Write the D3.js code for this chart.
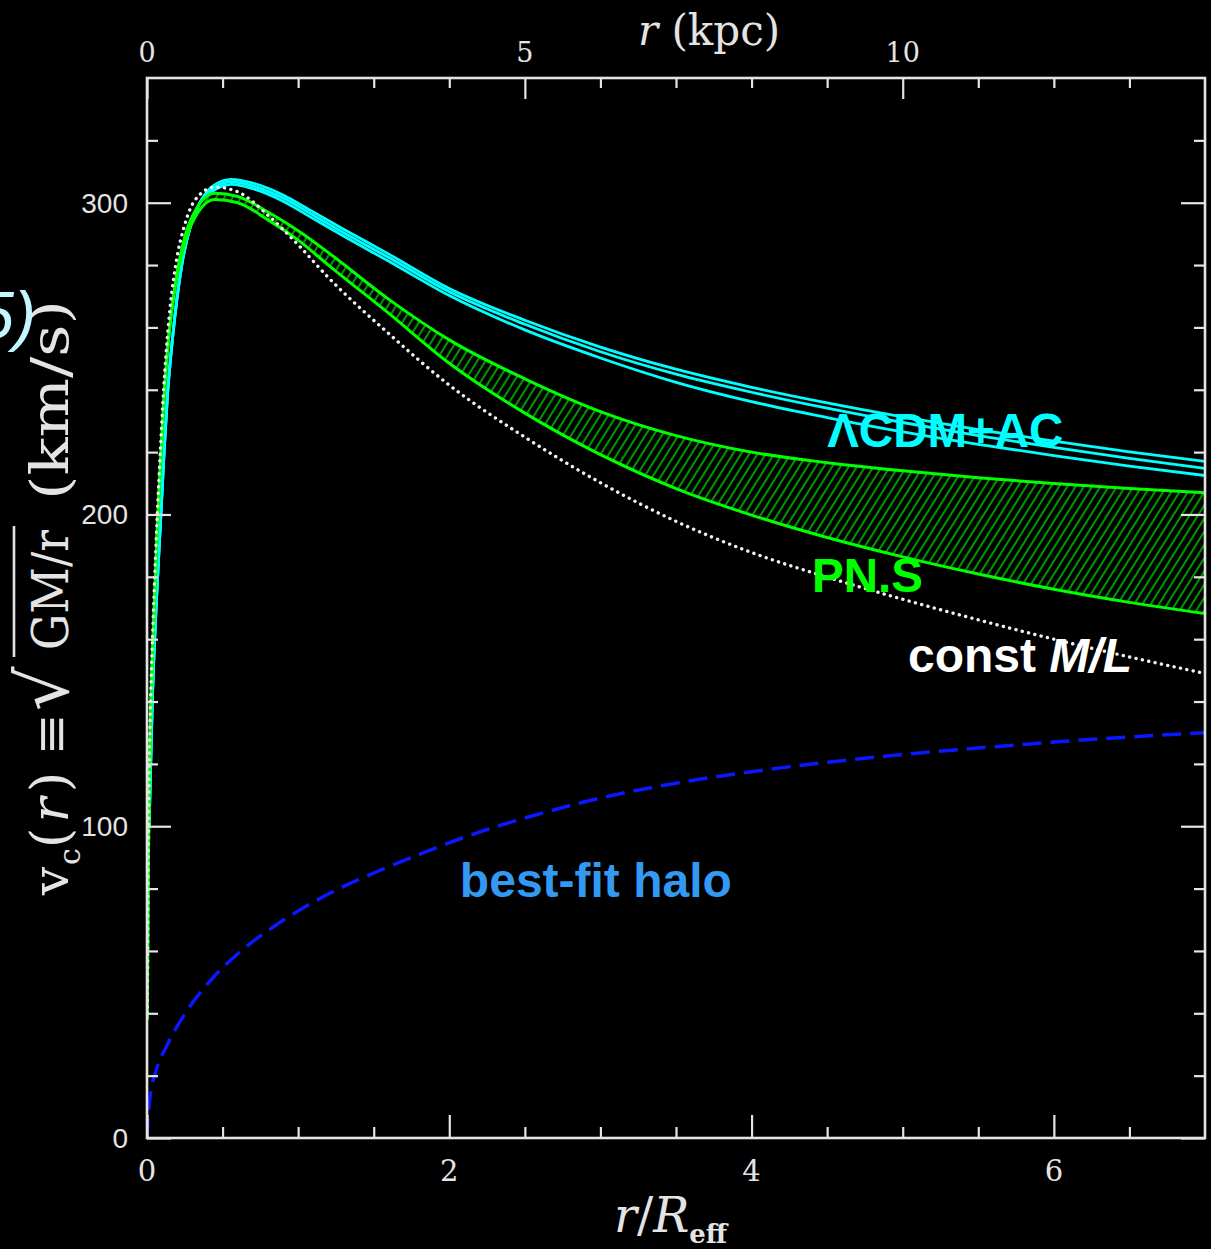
<!DOCTYPE html>
<html>
<head>
<meta charset="utf-8">
<script src="https://cdn.jsdelivr.net/npm/d3@7"></script>
<style>
  html, body { margin: 0; padding: 0; background: #000; }
  svg { display: block; }
</style>
</head>
<body>
<script>
//Data
//r in units of R_eff, v_c in km/s
const rML = [0.002,0.008,0.015,0.025,0.04,0.068,0.09,0.11,0.14,0.19,0.25,0.32,0.45,0.6,0.8,1.0,1.2,1.6,2.0,2.5,3.0,3.5,4.0,4.5,5.0,5.5,6.0,6.5,7.0];
const vML = [40,88,118,142,165,200,222,240,260,280,293,301,305,303.5,296,286.5,276,258,241.5,224.8,210.2,197.8,187.8,179.9,172.8,166.2,160,154.3,149];

const rPN = [0.002,0.008,0.015,0.025,0.04,0.068,0.09,0.11,0.14,0.19,0.25,0.32,0.45,0.6,0.8,1.0,1.2,1.6,2.0,2.5,3.0,3.5,4.0,4.5,5.0,5.5,6.0,6.5,7.0];
const pnUpper = [38,84,113,137,160,195,217,235,255,275,289,297.5,303,302,297,291,284,269,256,243.5,233,225.3,220,216.6,214,211.8,209.9,208.3,207];
const pnLower = [38,84,113,137,160,195,217,235,255,274,287,295.5,301,300,294.5,288,280,264.5,248.5,232.5,219.2,208.3,199.8,192.6,186.4,180.9,176,171.8,168.2];

const rCDM = [0.014,0.035,0.062,0.092,0.113,0.135,0.17,0.23,0.29,0.35,0.44,0.56,0.7,0.9,1.1,1.3,1.6,2.0,2.5,3.0,3.5,4.0,4.5,5.0,5.5,6.0,6.5,7.0];
const cdmTop = [100,140,172,200,220,238,257,280,293,300,305.5,307.5,306.3,302.5,297,291.5,283.5,272.5,262.3,253.7,246.6,240.8,235.8,231.3,227.2,223.5,220.1,217];
const cdmMid = [100,140,172,200,220,238,257,280,293,300,304.7,306.7,305.4,301.5,296,290.4,282.4,271.4,261,252.2,245,239.2,234.1,229.5,225.3,221.5,218,214.8];
const cdmBot = [100,140,172,200,220,238,257,280,293,300,303.9,305.9,304.5,300.5,294.9,289.3,281.2,270.2,259.2,250.2,242.4,236.2,231.1,226.5,222.5,218.9,215.5,212.5];

const rHalo = [0,0.005,0.02,0.06,0.13,0.24,0.42,0.61,0.83,1.17,1.5,1.83,2.16,2.6,3.04,3.5,4.0,4.5,5.0,5.6,6.3,7.0];
const vHalo = [0,5,13,21.5,29.5,39,50.5,59.5,67.5,77.5,85,91.5,97.5,104,109.5,113.8,117.5,120.5,123,125.5,128,130];

//Ticks
const xMajor = [0,2,4,6];
const xMinor = [0.5,1,1.5,2.5,3,3.5,4.5,5,5.5,6.5];
const yMajor = [0,100,200,300];
const yMinor = [20,40,60,80,120,140,160,180,220,240,260,280,320];
const kpcMajor = [0,5,10];
const kpcMinor = [1,2,3,4,6,7,8,9,11,12,13];
const rEffKpc = 2.0;

//Labels
const labels = [
  {t: "\u039BCDM+AC", r: 4.5, v: 221.5, color: "#00ffff", size: 47.5},
  {t: "PN.S", r: 4.4, v: 175, color: "#00ff00", size: 47.5},
  {t: "best-fit halo", r: 2.07, v: 77.3, color: "#3399f3", size: 48}
];

const w = 1211, h = 1249;
const plot = {left: 147, right: 1205, top: 78, bottom: 1138};
const axisColor = "#e4e4e4";

const svg = d3.select("body").append("svg").attr("width", w).attr("height", h)
  .style("background", "#000");

const x = d3.scaleLinear().domain([0, 7]).range([plot.left, plot.right]);
const xk = d3.scaleLinear().domain([0, 7 * rEffKpc]).range([plot.left, plot.right]);
const y = d3.scaleLinear().domain([0, 340]).range([plot.bottom, plot.top]);

const zip = (rs, vs) => rs.map((r, i) => [r, vs[i]]);
const line = d3.line().x(d => x(d[0])).y(d => y(d[1])).curve(d3.curveMonotoneX);

//hatch pattern for PN.S band
const defs = svg.append("defs");
defs.append("clipPath").attr("id", "clip")
  .append("rect").attr("x", plot.left).attr("y", plot.top)
  .attr("width", plot.right - plot.left).attr("height", plot.bottom - plot.top);
const pat = defs.append("pattern").attr("id", "hatch").attr("patternUnits", "userSpaceOnUse")
  .attr("width", 7).attr("height", 7).attr("patternTransform", "rotate(32)");
pat.append("line").attr("x1", 1).attr("y1", 0).attr("x2", 1).attr("y2", 7)
  .attr("stroke", "#00b300").attr("stroke-width", 1.7);

const g = svg.append("g").attr("clip-path", "url(#clip)");

//LCDM+AC lines (under the green and dotted curves where they overlap in the rise)
[cdmTop, cdmMid, cdmBot].forEach(vs => {
  g.append("path").datum(zip(rCDM, vs)).attr("d", line)
    .attr("fill", "none").attr("stroke", "#00ffff").attr("stroke-width", 2.8);
});

//PN.S band
const area = d3.area().x(d => x(d[0])).y0(d => y(d[2])).y1(d => y(d[1])).curve(d3.curveMonotoneX);
g.append("path").datum(rPN.map((r, i) => [r, pnUpper[i], pnLower[i]]))
  .attr("d", area).attr("fill", "url(#hatch)");
[pnUpper, pnLower].forEach(vs => {
  g.append("path").datum(zip(rPN, vs)).attr("d", line)
    .attr("fill", "none").attr("stroke", "#00ff00").attr("stroke-width", 3);
});

//const M/L
g.append("path").datum(zip(rML, vML)).attr("d", line)
  .attr("fill", "none").attr("stroke", "#f0f0f0").attr("stroke-width", 3.4)
  .attr("stroke-linecap", "round").attr("stroke-dasharray", "0.1,6.4");

//halo
g.append("path").datum(zip(rHalo, vHalo)).attr("d", line)
  .attr("fill", "none").attr("stroke", "#0a18ff").attr("stroke-width", 3.5)
  .attr("stroke-dasharray", "19,9");

//Axes - ticks point inward
function ticks(axis, tf, vals, size) {
  const a = svg.append("g").attr("transform", tf)
    .call(axis.tickValues(vals).tickSize(size).tickFormat(""));
  a.select(".domain").remove();
  a.selectAll("line").attr("stroke", axisColor).attr("stroke-width", 2.2);
  return a;
}
ticks(d3.axisBottom(x), `translate(0,${plot.bottom})`, xMajor, -23);
ticks(d3.axisBottom(x), `translate(0,${plot.bottom})`, xMinor, -11);
ticks(d3.axisTop(xk), `translate(0,${plot.top})`, kpcMajor, -21);
ticks(d3.axisTop(xk), `translate(0,${plot.top})`, kpcMinor, -10);
ticks(d3.axisLeft(y), `translate(${plot.left},0)`, yMajor, -24);
ticks(d3.axisLeft(y), `translate(${plot.left},0)`, yMinor, -11);
ticks(d3.axisRight(y), `translate(${plot.right},0)`, yMajor, -24);
ticks(d3.axisRight(y), `translate(${plot.right},0)`, yMinor, -11);

svg.append("rect").attr("x", plot.left).attr("y", plot.top)
  .attr("width", plot.right - plot.left).attr("height", plot.bottom - plot.top)
  .attr("fill", "none").attr("stroke", axisColor).attr("stroke-width", 2.6);

//tick labels
xMajor.forEach(d => {
  svg.append("text").text(d).attr("x", x(d)).attr("y", 1181)
    .attr("text-anchor", "middle").attr("font-family", "DejaVu Serif").attr("font-size", 29).attr("fill", axisColor);
});
kpcMajor.forEach(d => {
  svg.append("text").text(d).attr("x", xk(d)).attr("y", 62)
    .attr("text-anchor", "middle").attr("font-family", "DejaVu Serif").attr("font-size", 27).attr("fill", axisColor);
});
yMajor.forEach(d => {
  svg.append("text").text(d).attr("x", 128).attr("y", y(d) + 10)
    .attr("text-anchor", "end").attr("font-family", "Liberation Sans").attr("font-size", 28).attr("fill", axisColor);
});

//axis titles
const topTitle = svg.append("text").attr("x", 638).attr("y", 45)
  .attr("font-family", "DejaVu Serif").attr("font-size", 42).attr("fill", axisColor);
topTitle.append("tspan").text("r").attr("font-style", "italic");
topTitle.append("tspan").text(" (kpc)");

const botTitle = svg.append("text").attr("x", 614).attr("y", 1232)
  .attr("font-family", "DejaVu Serif").attr("font-size", 48).attr("fill", axisColor);
botTitle.append("tspan").text("r").attr("font-style", "italic");
botTitle.append("tspan").text("/");
botTitle.append("tspan").text("R").attr("font-style", "italic");
botTitle.append("tspan").text("eff").attr("font-size", 26).attr("font-weight", "bold").attr("dy", 11);

//y title, rotated, pieces placed along the axis
const yt = svg.append("g").attr("transform", "translate(68,895) rotate(-90)")
  .attr("font-family", "DejaVu Serif").attr("fill", axisColor);
function piece(str, px, size, len) {
  const t = yt.append("text").attr("x", px).attr("y", 0).attr("font-size", size).text(str);
  if (len) t.attr("textLength", len).attr("lengthAdjust", "spacingAndGlyphs");
  return t;
}
piece("v", 0, 50);
piece("c", 30, 30).attr("y", 12);
const pr = yt.append("text").attr("x", 47).attr("y", 0).attr("font-size", 52)
  .attr("textLength", 76).attr("lengthAdjust", "spacing");
pr.append("tspan").text("(");
pr.append("tspan").text("r").attr("font-style", "italic");
pr.append("tspan").text(")");
piece("\u2261", 140, 50);
piece("\u221A", 184, 70).attr("font-family", "DejaVu Sans");
piece("GM/r", 245, 50, 120);
yt.append("line").attr("x1", 238).attr("x2", 369).attr("y1", -54).attr("y2", -54)
  .attr("stroke", axisColor).attr("stroke-width", 2.6);
piece("(km/s)", 395, 53, 200);

//stray caption fragment at left edge
svg.append("text").text("5)").attr("x", 36).attr("y", 338).attr("text-anchor", "end")
  .attr("font-family", "Liberation Sans").attr("font-style", "italic").attr("font-size", 66)
  .attr("fill", "#c4f6ff");

//curve labels
labels.forEach(l => {
  svg.append("text").text(l.t).attr("x", x(l.r)).attr("y", y(l.v))
    .attr("font-family", "Liberation Sans").attr("font-weight", "bold").attr("font-size", l.size)
    .attr("fill", l.color);
});
const ml = svg.append("text").attr("x", 908).attr("y", 672)
  .attr("font-family", "Liberation Sans").attr("font-weight", "bold").attr("font-size", 48)
  .attr("fill", "#ffffff");
ml.append("tspan").text("const ");
ml.append("tspan").text("M/L").attr("font-style", "italic");
</script>
</body>
</html>
